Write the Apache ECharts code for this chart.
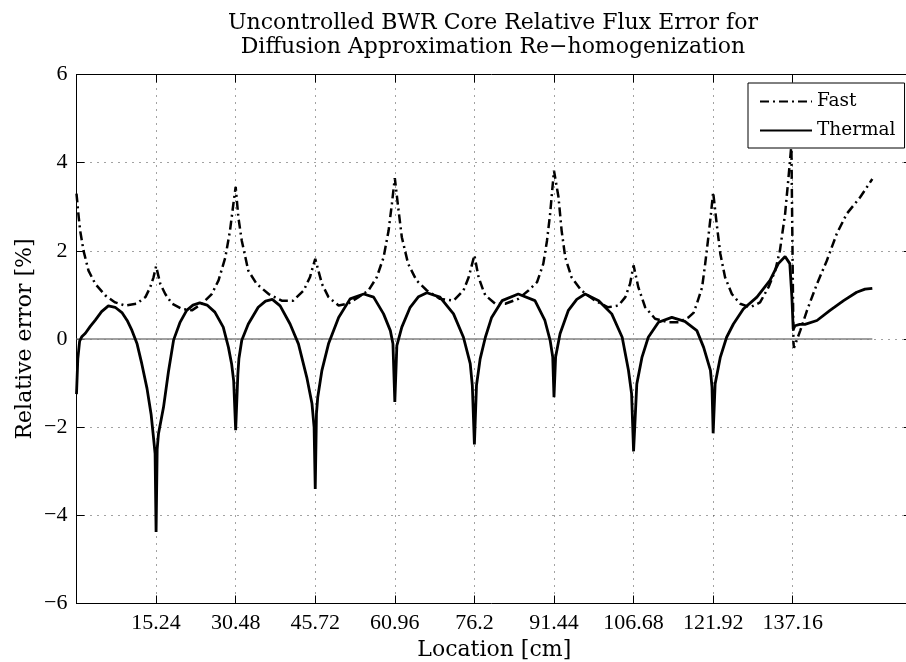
<!DOCTYPE html>
<html>
<head>
<meta charset="utf-8">
<script src="https://cdn.jsdelivr.net/npm/echarts@6/dist/echarts.min.js"></script>
<style>
html,body{margin:0;padding:0;background:#fff;}
#chart{width:906px;height:662px;}
</style>
</head>
<body>
<div id="chart"></div>
<script>
// ---- data ----
var titleLines = ['Uncontrolled BWR Core Relative Flux Error for', 'Diffusion Approximation Re\u2212homogenization'];
var xAxisName = 'Location [cm]';
var yAxisName = 'Relative error [%]';
var seriesNames = ['Fast', 'Thermal'];

var xTickValues = [15.24, 30.48, 45.72, 60.96, 76.2, 91.44, 106.68, 121.92, 137.16];
var xTickLabels = ['15.24', '30.48', '45.72', '60.96', '76.2', '91.44', '106.68', '121.92', '137.16'];
var yTickValues = [-6, -4, -2, 0, 2, 4, 6];

var fastX = [0, 0.35, 0.7, 1.35, 2.3, 3.6, 5.5, 7.4, 9.3, 11.5, 13.2, 14.1, 14.75, 15.24, 16.05, 17.0, 18.3, 20.2, 22.1, 24.0, 25.9, 27.2, 28.5, 29.4, 30.05, 30.48, 31.0, 31.65, 32.9, 34.5, 36.8, 39.3, 41.5, 43.5, 44.7, 45.72, 47.0, 48.26, 50.2, 52.0, 54.0, 55.9, 57.5, 58.8, 59.77, 60.4, 60.96, 61.6, 62.3, 63.5, 65.1, 67.1, 69.6, 72.2, 74.1, 75.1, 76.2, 77.0, 77.9, 78.3, 80.2, 82.1, 84.6, 86.55, 88.2, 89.4, 90.1, 90.7, 91.44, 92.3, 92.9, 93.6, 94.8, 96.7, 99.3, 101.8, 103.8, 105.1, 106.0, 106.68, 107.6, 108.9, 110.8, 113.4, 115.3, 117.2, 118.2, 118.8, 119.8, 120.4, 121.0, 121.5, 121.92, 122.6, 123.3, 124.2, 125.5, 127.1, 129.0, 130.9, 132.5, 133.8, 134.7, 135.7, 136.3, 136.9, 137.1, 137.3, 137.4, 138.6, 139.9, 141.8, 143.7, 145.6, 147.5, 150.1, 152.4];
var fastY = [3.3, 2.85, 2.46, 2.0, 1.55, 1.25, 0.99, 0.83, 0.76, 0.8, 0.95, 1.17, 1.4, 1.65, 1.25, 1.02, 0.8, 0.68, 0.65, 0.8, 1.02, 1.33, 1.85, 2.46, 3.07, 3.45, 2.76, 2.23, 1.55, 1.25, 1.02, 0.87, 0.87, 1.1, 1.4, 1.82, 1.25, 0.95, 0.76, 0.8, 0.95, 1.1, 1.4, 1.85, 2.46, 3.07, 3.65, 2.99, 2.31, 1.71, 1.33, 1.1, 0.91, 0.87, 1.1, 1.4, 1.9, 1.4, 1.1, 0.99, 0.8, 0.8, 0.91, 1.1, 1.29, 1.71, 2.23, 2.84, 3.82, 3.22, 2.46, 1.85, 1.4, 1.1, 0.87, 0.72, 0.76, 0.95, 1.25, 1.67, 1.17, 0.72, 0.46, 0.38, 0.38, 0.49, 0.6, 0.8, 1.17, 1.71, 2.31, 2.84, 3.33, 2.61, 1.93, 1.4, 1.02, 0.8, 0.72, 0.83, 1.17, 1.55, 2.0, 2.84, 3.6, 4.4, 2.2, -0.1, -0.2, 0.19, 0.65, 1.25, 1.78, 2.39, 2.84, 3.22, 3.63];

var thermalX = [0, 0.25, 0.6, 1.0, 1.7, 2.6, 3.6, 4.8, 6.1, 7.4, 8.7, 9.7, 10.6, 11.6, 12.5, 13.5, 14.3, 14.8, 15.05, 15.24, 15.45, 15.7, 16.66, 17.6, 18.6, 19.8, 21.1, 22.3, 23.6, 25.0, 26.5, 28.1, 29.1, 29.7, 30.1, 30.48, 30.9, 31.1, 31.65, 32.9, 34.8, 36.2, 37.5, 39.0, 40.9, 42.5, 44.1, 45.1, 45.5, 45.72, 45.95, 46.2, 47.0, 48.26, 50.2, 52.4, 55.0, 56.9, 58.8, 60.1, 60.6, 60.96, 61.35, 62.3, 63.9, 65.5, 67.1, 69.6, 72.2, 74.1, 75.4, 75.8, 76.2, 76.6, 77.3, 78.3, 79.5, 81.5, 84.6, 87.8, 89.7, 90.7, 91.2, 91.44, 91.75, 92.6, 94.2, 95.8, 97.4, 100.0, 102.5, 104.5, 105.7, 106.3, 106.68, 107.3, 108.3, 109.5, 111.45, 114.0, 116.5, 118.8, 120.1, 121.4, 121.7, 121.92, 122.3, 123.3, 124.5, 125.8, 127.7, 130.3, 132.8, 134.4, 135.7, 136.6, 137.0, 137.25, 137.6, 138.5, 139.5, 141.8, 144.3, 146.9, 149.4, 151.0, 152.4];
var thermalY = [-1.25, -0.45, -0.05, 0.05, 0.13, 0.28, 0.43, 0.62, 0.75, 0.72, 0.6, 0.42, 0.2, -0.11, -0.56, -1.12, -1.72, -2.3, -2.6, -4.38, -2.5, -2.15, -1.55, -0.75, -0.02, 0.37, 0.65, 0.77, 0.82, 0.77, 0.61, 0.27, -0.19, -0.56, -0.95, -2.07, -0.8, -0.45, -0.03, 0.34, 0.72, 0.86, 0.9, 0.75, 0.34, -0.11, -0.87, -1.47, -2.0, -3.4, -1.7, -1.32, -0.71, -0.11, 0.49, 0.91, 1.02, 0.95, 0.57, 0.19, -0.11, -1.43, -0.15, 0.27, 0.72, 0.96, 1.05, 0.95, 0.57, 0.04, -0.56, -1.05, -2.39, -1.05, -0.45, 0.04, 0.49, 0.87, 1.02, 0.87, 0.42, -0.03, -0.41, -1.32, -0.41, 0.12, 0.65, 0.9, 1.02, 0.87, 0.57, 0.04, -0.71, -1.24, -2.55, -1.02, -0.41, 0.04, 0.38, 0.49, 0.4, 0.19, -0.19, -0.71, -1.09, -2.14, -1.02, -0.41, 0.04, 0.34, 0.68, 0.95, 1.33, 1.71, 1.87, 1.71, 0.95, 0.22, 0.3, 0.33, 0.33, 0.42, 0.65, 0.87, 1.06, 1.13, 1.15];

var zeroLineX = [0, 152.4];
var zeroLineY = [0, 0];

// ---- build ----
function pairs(xs, ys) { return xs.map(function (x, i) { return [x, ys[i]]; }); }

var TEXT_FONT = 'DejaVu Serif';
var NUM_FONT = 'Liberation Serif';
var gridLine = { show: true, lineStyle: { color: '#444', width: 1, type: [1, 6] } };
var axisLine = { show: true, onZero: false, lineStyle: { color: '#000', width: 1 } };

var chart = echarts.init(document.getElementById('chart'), null, { renderer: 'canvas' });
chart.setOption({
  animation: false,
  backgroundColor: '#fff',
  graphic: [{
    type: 'text', x: 493, y: 11, z: 100,
    style: { text: titleLines.join('\n'), align: 'center', verticalAlign: 'top', fontSize: 22, lineHeight: 24, fontFamily: TEXT_FONT, fill: '#000' }
  }],
  grid: { left: 76.5, right: -6, top: 74.5, bottom: 58.5, containLabel: false, outerBoundsMode: 'none' },
  legend: {
    data: seriesNames, orient: 'vertical', left: 748, top: 83,
    itemWidth: 52, itemHeight: 14, itemGap: 10,
    padding: [9, 9, 8, 11],
    borderColor: '#000', borderWidth: 1, backgroundColor: '#fff',
    itemStyle: { opacity: 0 },
    textStyle: { fontSize: 18.5, fontFamily: TEXT_FONT, color: '#000' }
  },
  xAxis: [{
    type: 'value', min: 0, max: 160, position: 'bottom',
    axisLine: axisLine,
    axisTick: { show: true, inside: true, length: 8, customValues: xTickValues, lineStyle: { color: '#000' } },
    axisLabel: { show: true, customValues: xTickValues, margin: 9, fontSize: 22, fontFamily: NUM_FONT, color: '#000',
      formatter: function (v) { var i = xTickValues.indexOf(v); return i >= 0 ? xTickLabels[i] : String(v); } },
    splitLine: gridLine,
    name: xAxisName, nameLocation: 'middle', nameGap: 35,
    nameTextStyle: { fontSize: 22, fontFamily: TEXT_FONT, color: '#000' }
  }, {
    type: 'value', min: 0, max: 160, position: 'top',
    axisLine: axisLine,
    axisTick: { show: true, inside: true, length: 8, customValues: xTickValues, lineStyle: { color: '#000' } },
    axisLabel: { show: false }, splitLine: { show: false }
  }],
  yAxis: [{
    type: 'value', min: -6, max: 6, interval: 2, position: 'left',
    axisLine: axisLine,
    axisTick: { show: true, inside: true, length: 8, lineStyle: { color: '#000' } },
    axisLabel: { show: true, margin: 9, fontSize: 22, fontFamily: NUM_FONT, color: '#000',
      formatter: function (v) { return String(v).replace('-', '\u2212'); } },
    splitLine: gridLine,
    name: yAxisName, nameLocation: 'middle', nameGap: 40, nameRotate: 90, nameMoveOverlap: false,
    nameTextStyle: { fontSize: 22, fontFamily: TEXT_FONT, color: '#000' }
  }, {
    type: 'value', min: -6, max: 6, interval: 2, position: 'right',
    axisLine: axisLine,
    axisTick: { show: true, inside: true, length: 8, lineStyle: { color: '#000' } },
    axisLabel: { show: false }, splitLine: { show: false }
  }],
  series: [{
    name: 'zero', type: 'line', data: pairs(zeroLineX, zeroLineY), symbol: 'none', silent: true, z: 1,
    lineStyle: { color: '#808080', width: 1.5 }
  }, {
    name: seriesNames[0], type: 'line', data: pairs(fastX, fastY), symbol: 'none', z: 3,
    itemStyle: { color: '#000' },
    lineStyle: { color: '#000', width: 2.5, type: [9, 4, 2, 4] }
  }, {
    name: seriesNames[1], type: 'line', data: pairs(thermalX, thermalY), symbol: 'none', z: 4,
    itemStyle: { color: '#000' },
    lineStyle: { color: '#000', width: 2.8 }
  }]
});
</script>
</body>
</html>
